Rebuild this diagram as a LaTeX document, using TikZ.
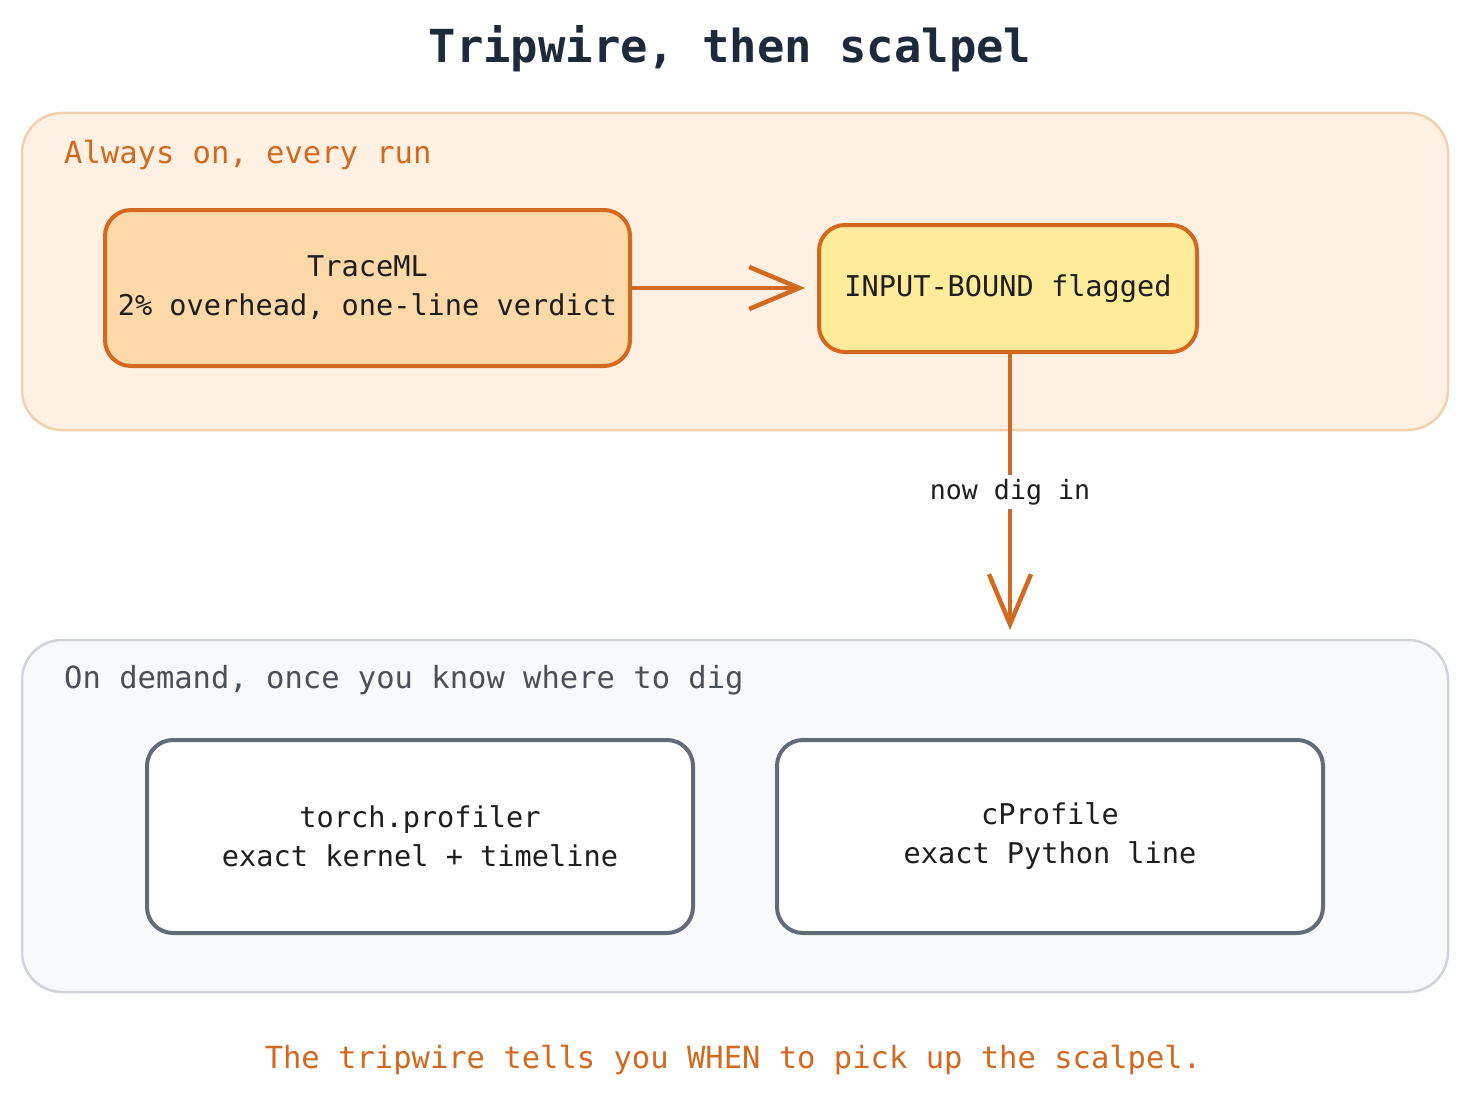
\documentclass[tikz,border=0pt]{standalone}
\usepackage{fontspec}
\setmainfont{DejaVu Sans Mono}
\usetikzlibrary{arrows.meta}
\definecolor{orng}{HTML}{D2691E}
\definecolor{peach}{HTML}{FDD8A8}
\definecolor{yel}{HTML}{FFEB99}
\definecolor{toppanel}{HTML}{FEF1E4}
\definecolor{topedge}{HTML}{F2CFAE}
\definecolor{botpanel}{HTML}{F8F9FA}
\definecolor{botedge}{HTML}{CED4DA}
\definecolor{slate}{HTML}{646B78}
\definecolor{navy}{HTML}{1E2A3A}
\definecolor{grylabel}{HTML}{495057}
\definecolor{ink}{HTML}{1E1E1E}
\tikzset{
  panel/.style={draw, line width=2.5pt, rounded corners=40pt, inner sep=0pt},
  box/.style={draw, line width=4pt, rounded corners=26pt, align=center, inner sep=0pt,
    text=ink, font=\fontsize{28.6}{39}\selectfont},
  grouplabel/.style={anchor=west, inner sep=0pt, font=\fontsize{30.5}{36}\selectfont},
  conn/.style={draw=orng, line width=4.5pt, -{Straight Barb[length=50pt,width=42pt,line width=4.5pt]}}
}
\begin{document}
\begin{tikzpicture}[x=1pt,y=-1pt]
\useasboundingbox (0,0) rectangle (1470,1105);
% title
\node[font=\fontsize{45.5}{50}\selectfont\bfseries, text=navy, inner sep=0pt] (title) at (730,49) {Tripwire, then scalpel};
% panels
\node[panel, draw=topedge, fill=toppanel, minimum width=1426pt, minimum height=317pt] (top) at (735,271.5) {};
\node[panel, draw=botedge, fill=botpanel, minimum width=1426pt, minimum height=352pt] (bot) at (735,816) {};
\node[grouplabel, text=orng] (toplabel) at (64,155) {Always on, every run};
\node[grouplabel, text=grylabel] (botlabel) at (64,680) {On demand, once you know where to dig};
% boxes
\node[box, draw=orng, fill=peach, minimum width=525pt, minimum height=156pt] (trace) at (367.5,288) {TraceML\\2\% overhead, one-line verdict};
\node[box, draw=orng, fill=yel, minimum width=378pt, minimum height=127pt] (inp) at (1008,288.5) {INPUT-BOUND flagged};
\node[box, draw=slate, fill=white, minimum width=546pt, minimum height=193pt] (torch) at (420,836.5) {torch.profiler\\exact kernel + timeline};
\node[box, draw=slate, fill=white, minimum width=546pt, minimum height=193pt] (cprof) at (1050,836.5) {cProfile\\exact Python line};
% connectors
\coordinate (digend) at (1010,630);
\draw[conn] (trace.east |- 0,288) -- (805,288);
\draw[conn] (inp.south -| digend) -- node[fill=white, text=ink, inner sep=4pt, font=\fontsize{26.6}{30}\selectfont] (dig) {now dig in} (digend);
% footer
\node[font=\fontsize{30.5}{36}\selectfont, text=orng, inner sep=0pt] (foot) at (733,1060) {The tripwire tells you WHEN to pick up the scalpel.};
\end{tikzpicture}
\end{document}
